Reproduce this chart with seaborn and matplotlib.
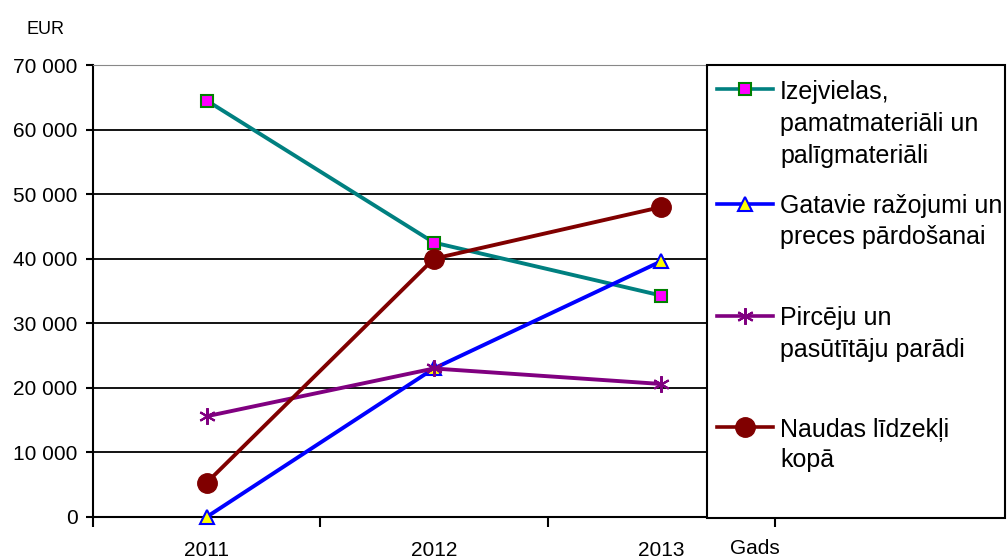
import matplotlib
matplotlib.use("Agg")
import matplotlib.pyplot as plt
import seaborn as sns
from matplotlib.lines import Line2D
from matplotlib.patches import Rectangle
from matplotlib.ticker import FuncFormatter, FixedLocator

plt.rcParams['font.family'] = ['Liberation Sans', 'DejaVu Sans']

# Dati
gadi = ['2011', '2012', '2013']
izejvielas = [64500, 42500, 34300]
gatavie = [0, 23000, 39600]
pirceju = [15600, 23000, 20600]
naudas = [5300, 40000, 48000]

serijas = [
    (['Izejvielas,', 'pamatmateriāli un', 'palīgmateriāli'], izejvielas,
     dict(color='#008080', marker='s', ms=8, mfc='#ff00ff', mec='#008000', mew=1.5)),
    (['Gatavie ražojumi un', 'preces pārdošanai'], gatavie,
     dict(color='#0000ff', marker='^', ms=10, mfc='#ffff00', mec='#0000ff', mew=1.5)),
    (['Pircēju un', 'pasūtītāju parādi'], pirceju,
     dict(color='#800080', marker=(6, 2, 0), ms=12, mfc='#800080', mec='#800080', mew=1.5)),
    (['Naudas līdzekļi', 'kopā'], naudas,
     dict(color='#800000', marker='o', ms=14, mfc='#800000', mec='#800000', mew=1)),
]
# legendas teksta rindu pozīcijas (px)
leg_rindas = [[89, 121, 153], [204, 234], [316, 347], [427, 458]]

W, H = 1008, 558
fig = plt.figure(figsize=(W / 100, H / 100), dpi=100)
ax = fig.add_axes([93 / W, 1 - 517 / H, 909 / W, 452 / H])

# Līnijas
for nosaukums, vertibas, stils in serijas:
    sns.lineplot(x=gadi, y=vertibas, ax=ax, lw=2.8, zorder=3, clip_on=False, **stils)

# Asis
ax.set_xlim(-0.5, 3.5)
ax.set_ylim(0, 70000)
ax.set_xticks([0, 1, 2], labels=gadi)
ax.xaxis.set_minor_locator(FixedLocator([-0.5, 0.5, 1.5, 2.5]))
ax.tick_params(axis='x', which='major', length=0, pad=17, labelsize=15)
ax.tick_params(axis='x', which='minor', length=7, width=1.5, direction='out')
ax.set_yticks(range(0, 70001, 10000))
ax.yaxis.set_major_formatter(FuncFormatter(lambda v, p: f"{v:,.0f}".replace(',', ' ')))
ax.tick_params(axis='y', length=5, width=1.5, pad=6, labelsize=15)
ax.yaxis.grid(True, color='black', lw=1.3)
ax.get_ygridlines()[-1].set_color('#888888')
ax.set_axisbelow(True)
ax.set_xlabel('')
ax.set_ylabel('')
ax.spines['right'].set_visible(False)
ax.spines['top'].set_color('#888888')
ax.spines['left'].set_linewidth(1.5)
ax.spines['bottom'].set_linewidth(1.5)

fig.text(45 / W, 1 - 30 / H, 'EUR', fontsize=13, ha='center', va='center')
fig.text(755 / W, 1 - 548 / H, 'Gads', fontsize=15, ha='center', va='center')

# Legenda
fig.add_artist(Rectangle((707 / W, 1 - 518 / H), 298 / W, 453 / H, transform=fig.transFigure,
                         facecolor='white', edgecolor='black', lw=1.5, zorder=5))
for (nosaukums, vertibas, stils), rindas in zip(serijas, leg_rindas):
    y = 1 - rindas[0] / H
    fig.add_artist(Line2D([717 / W, 773 / W], [y, y], transform=fig.transFigure,
                          color=stils['color'], lw=2.6, zorder=6))
    m = {k: v for k, v in stils.items() if k != 'color'}
    fig.add_artist(Line2D([745 / W], [y], transform=fig.transFigure, ls='none',
                          zorder=7, **m))
    for teksts, py in zip(nosaukums, rindas):
        fig.text(780 / W, 1 - py / H, teksts, fontsize=18, ha='left', va='center_baseline',
                 zorder=8)

fig.savefig('out.png', dpi=100)
